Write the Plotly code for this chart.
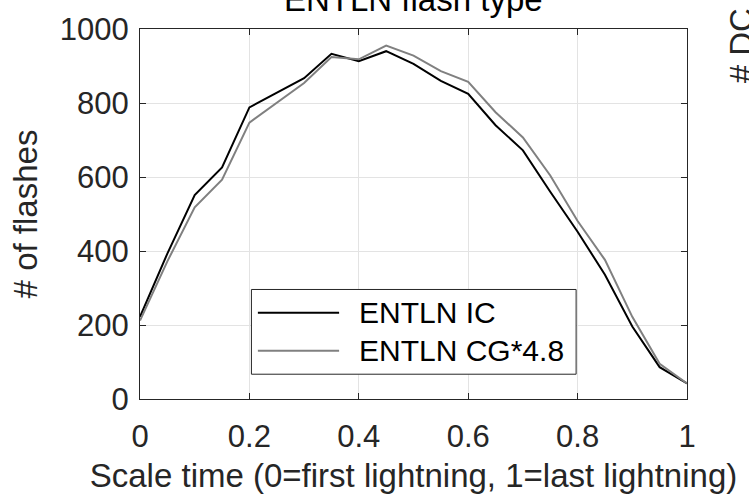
import plotly.graph_objects as go

# scaled time
scaled_time = [0.0, 0.05, 0.1, 0.15, 0.2, 0.25, 0.3, 0.35, 0.4, 0.45, 0.5,
               0.55, 0.6, 0.65, 0.7, 0.75, 0.8, 0.85, 0.9, 0.95, 1.0]
entln_ic = [222, 393, 551, 626, 788, 828, 867, 933, 913, 940, 906,
            860, 825, 740, 672, 560, 452, 336, 196, 86, 42]
entln_cg48 = [212, 372, 518, 593, 747, 801, 854, 924, 918, 955, 928,
              886, 857, 775, 707, 604, 481, 376, 222, 95, 42]

series_names = ["ENTLN IC", "ENTLN CG*4.8"]
series_colors = ["#000000", "#808080"]

x_ticks = [0, 0.2, 0.4, 0.6, 0.8, 1]
x_tick_labels = ["0", "0.2", "0.4", "0.6", "0.8", "1"]
y_ticks = [0, 200, 400, 600, 800, 1000]

FONT = "Liberation Sans, Arial, Helvetica, sans-serif"
TXT = "#262626"

fig = go.Figure()
for name, vals, col in zip(series_names, [entln_ic, entln_cg48], series_colors):
    fig.add_trace(go.Scatter(x=scaled_time, y=vals, mode="lines", name=name,
                             line=dict(color=col, width=2), showlegend=False))

axis_common = dict(showline=True, linecolor=TXT, linewidth=1, mirror="ticks",
                   ticks="inside", ticklen=6, tickcolor=TXT,
                   showgrid=True, gridcolor="#e3e3e3", gridwidth=1,
                   zeroline=False, tickfont=dict(family=FONT, size=31, color=TXT))

fig.update_xaxes(range=[0, 1], tickvals=x_ticks, ticktext=x_tick_labels,
                 title=dict(text="Scale time (0=first lightning, 1=last lightning)",
                            font=dict(family=FONT, size=33, color=TXT), standoff=10),
                 ticklabelstandoff=10, **axis_common)
fig.update_yaxes(range=[0, 1000], tickvals=y_ticks,
                 title=dict(text="# of flashes", font=dict(family=FONT, size=33, color=TXT),
                            standoff=12),
                 ticklabelstandoff=4, **axis_common)

# legend (box + sample lines + labels)
fig.add_shape(type="rect", xref="paper", yref="paper", x0=0.2037, x1=0.7973,
              y0=0.067, y1=0.296, line=dict(color=TXT, width=1), fillcolor="white",
              layer="above")
legend_rows_y = [0.2329, 0.1303]
for name, col, yy in zip(series_names, series_colors, legend_rows_y):
    fig.add_shape(type="line", xref="paper", yref="paper", x0=0.2155, x1=0.364,
                  y0=yy, y1=yy, line=dict(color=col, width=2), layer="above")
    fig.add_annotation(xref="paper", yref="paper", x=0.3967, y=yy, text=name,
                       showarrow=False, xanchor="left", yanchor="middle",
                       font=dict(family=FONT, size=30, color="#000000"))

# title (partially cut at top, as in the reference)
fig.add_annotation(xref="paper", yref="paper", x=0.5, y=1, yanchor="bottom",
                   yshift=9, text="ENTLN flash type", showarrow=False,
                   font=dict(family=FONT, size=33, color="#000000"))
# neighbour panel's y label (cut off at right, as in the reference)
fig.add_annotation(xref="paper", yref="paper", x=1.0986, y=0.849, yanchor="bottom",
                   xanchor="center", text="# DC", textangle=-90, showarrow=False,
                   font=dict(family=FONT, size=33, color=TXT))

fig.update_layout(width=749, height=500, plot_bgcolor="white", paper_bgcolor="white",
                  margin=dict(l=139.5, r=62, t=19.5, b=100.5, pad=0),
                  showlegend=False)

fig.write_html("out.html")
